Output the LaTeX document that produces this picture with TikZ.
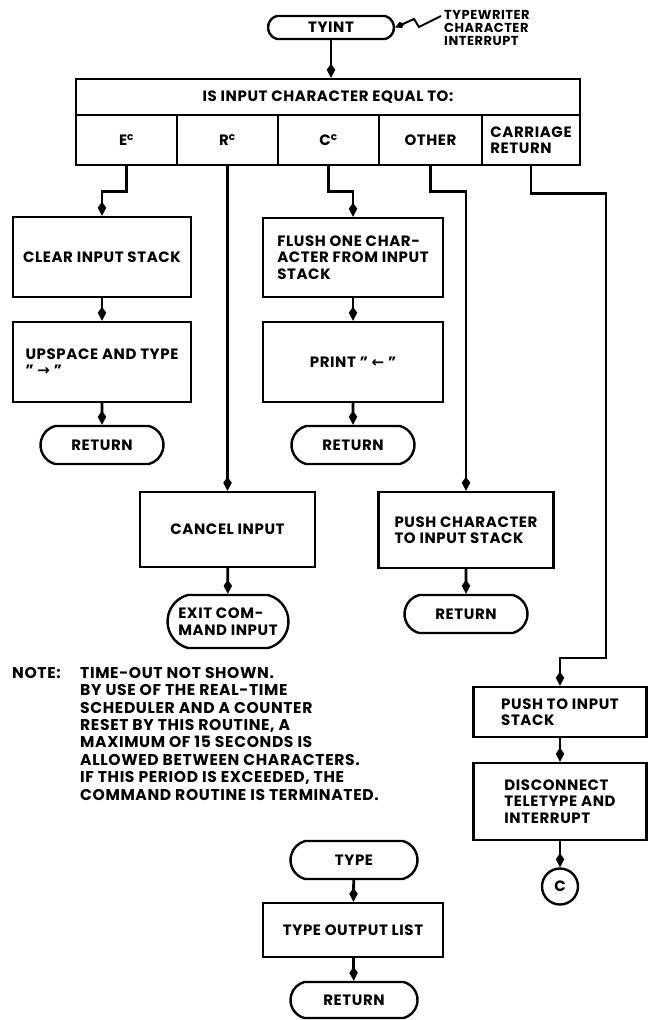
\documentclass[tikz,border=0pt]{standalone}
\usepackage{fontspec}
\setmainfont{Poppins}[LetterSpace=4.0]
\newfontfamily\symfont{DejaVu Sans}
\usetikzlibrary{arrows.meta,shapes.misc}

\begin{document}
\begin{tikzpicture}[x=1pt,y=-1pt,
  txt/.style={font=\bfseries\fontsize{15}{16.5}\selectfont},
  box/.style={draw, line width=2.4pt, rectangle, inner sep=2pt, align=left, txt},
  term/.style={draw, line width=2.4pt, rounded rectangle, rounded rectangle arc length=150,
               inner sep=2pt, align=left, txt},
  flow/.style={line width=2.8pt, -{Kite[length=14pt,width=8.5pt,inset=6pt]}},
]
\useasboundingbox (0,0) rectangle (648,1020);

% entry point and its interrupt source
\node[term, minimum width=130pt, minimum height=23pt] (tyint) at (331,27.5) {TYINT};
\node[anchor=north west, align=left, inner sep=0pt,
      font=\bfseries\fontsize{13}{13}\selectfont] (twlab) at (444,10)
      {TYPEWRITER\\CHARACTER\\INTERRUPT};
\coordinate (twtail) at (441,16);
\draw[line width=2pt, -{Kite[length=10pt,width=6.5pt,inset=4pt]}]
  (twtail) -- (419,27) -- (414,19) -- (tyint.east);

% decision table
\node[box, minimum width=504pt, minimum height=36pt] (head) at (328,97) {IS INPUT CHARACTER EQUAL TO:};
\node[box, minimum width=101pt, minimum height=50pt] (oE)  at (126.5,140) {E\textsuperscript{c}};
\node[box, minimum width=101pt, minimum height=50pt] (oR)  at (227.5,140) {R\textsuperscript{c}};
\node[box, minimum width=101pt, minimum height=50pt] (oC)  at (328.5,140) {C\textsuperscript{c}};
\node[box, minimum width=103pt, minimum height=50pt] (oO)  at (430.5,140) {OTHER};
\node[box, minimum width=98pt,  minimum height=50pt] (oCR) at (531,140) {CARRIAGE\\RETURN};

% E^c branch
\node[box, minimum width=178pt, minimum height=80pt] (clear)   at (102,257) {CLEAR INPUT STACK};
\node[box, minimum width=178pt, minimum height=80pt] (upspace) at (102,362)
  {UPSPACE AND TYPE\\" {\symfont\bfseries →} "};
\node[term, minimum width=127pt, minimum height=38pt] (ret1) at (102,445) {RETURN};

% C^c branch
\node[box, minimum width=180pt, minimum height=79pt] (flush) at (353,257.5)
  {FLUSH ONE CHAR-\\ACTER FROM INPUT\\STACK};
\node[box, minimum width=180pt, minimum height=80pt] (print) at (353,362)
  {PRINT " {\symfont\bfseries ←} "};
\node[term, minimum width=127pt, minimum height=38pt] (ret2) at (353,445) {RETURN};

% R^c branch
\node[box, minimum width=175pt, minimum height=75pt] (cancel) at (227.5,529.5) {CANCEL INPUT};
\node[term, minimum width=125pt, minimum height=53pt] (exit) at (228,621.5) {EXIT COM-\\MAND INPUT};

% OTHER branch
\node[box, minimum width=175pt, minimum height=76pt] (pushc) at (466,530)
  {PUSH CHARACTER\\TO INPUT STACK};
\node[term, minimum width=127pt, minimum height=38pt] (ret3) at (466,614) {RETURN};

% CARRIAGE RETURN branch
\node[box, minimum width=173pt, minimum height=50pt] (push2) at (560,712) {PUSH TO INPUT\\STACK};
\node[box, minimum width=173pt, minimum height=77pt] (disc) at (560,801.5)
  {DISCONNECT\\TELETYPE AND\\INTERRUPT};
\node[draw, circle, line width=2.4pt, minimum size=36pt, inner sep=0pt, txt] (conn) at (560,886.5) {C};
\coordinate (crturn) at (606,658);

% TYPE routine
\node[term, minimum width=131pt, minimum height=38pt] (type) at (354,860) {TYPE};
\node[box, minimum width=180pt, minimum height=54pt] (typeout) at (353,930) {TYPE OUTPUT LIST};
\node[term, minimum width=131pt, minimum height=36pt] (ret4) at (354,1000) {RETURN};

% note
\node[anchor=north west, inner sep=0pt, font=\bfseries\fontsize{15.6}{17.4}\selectfont]
  (notehd) at (12,667) {NOTE:};
\node[anchor=north west, inner sep=0pt, align=left,
      font=\bfseries\fontsize{15.6}{17.4}\selectfont] (notebody) at (80,667)
  {TIME-OUT NOT SHOWN.\\
   BY USE OF THE REAL-TIME\\
   SCHEDULER AND A COUNTER\\
   RESET BY THIS ROUTINE, A\\
   MAXIMUM OF 15 SECONDS IS\\
   ALLOWED BETWEEN CHARACTERS.\\
   IF THIS PERIOD IS EXCEEDED, THE\\
   COMMAND ROUTINE IS TERMINATED.};

% connectors
\draw[flow] (tyint.south) -- (tyint.south |- head.north);
\draw[flow] (oE.south) -- ++(0,25) -| (clear.north);
\draw[flow] (clear) -- (upspace);
\draw[flow] (upspace) -- (ret1);
\draw[flow] (oR.south) -- (cancel.north);
\draw[flow] (cancel) -- (exit);
\draw[flow] (oC.south) -- ++(0,25) -| (flush.north);
\draw[flow] (flush) -- (print);
\draw[flow] (print) -- (ret2);
\draw[flow] (oO.south) -- ++(0,25) -| (pushc.north);
\draw[flow] (pushc) -- (ret3);
\draw[flow] (oCR.south) -- ++(0,27) -| (crturn) -| (push2.north);
\draw[flow] (push2) -- (disc);
\draw[flow] (disc) -- (conn);
\draw[flow] (type) -- (typeout);
\draw[flow] (typeout) -- (ret4);
\end{tikzpicture}
\end{document}
